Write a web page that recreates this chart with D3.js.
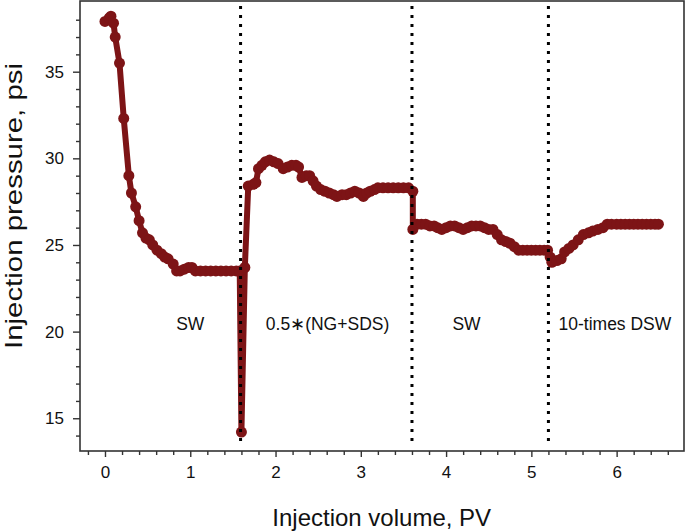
<!DOCTYPE html>
<html><head><meta charset="utf-8">
<script src="https://cdn.jsdelivr.net/npm/d3@7"></script>
<style>body{margin:0;background:#fff}svg{display:block}text{font-family:Arial,"Liberation Sans",sans-serif}</style>
</head><body>
<svg id="c" width="685" height="532"></svg>
<script>
const pv = [0.00,0.05,0.07,0.10,0.12,0.17,0.22,0.28,0.31,0.36,0.40,0.44,0.48,0.52,0.56,0.61,0.66,0.70,0.74,0.80,0.84,0.88,0.93,0.98,1.02,1.06,1.12,1.18,1.24,1.30,1.36,1.42,1.48,1.54,1.58,1.60,1.64,1.68,1.74,1.77,1.80,1.84,1.88,1.93,1.98,2.03,2.09,2.14,2.19,2.24,2.27,2.31,2.36,2.40,2.44,2.48,2.53,2.58,2.63,2.68,2.72,2.78,2.83,2.88,2.93,2.98,3.03,3.07,3.11,3.16,3.20,3.26,3.32,3.38,3.44,3.50,3.56,3.61,3.61,3.66,3.71,3.76,3.81,3.86,3.90,3.95,4.00,4.05,4.10,4.15,4.20,4.25,4.30,4.35,4.40,4.45,4.50,4.55,4.60,4.65,4.70,4.75,4.80,4.85,4.90,4.95,5.00,5.05,5.10,5.15,5.19,5.22,5.24,5.30,5.35,5.39,5.44,5.49,5.55,5.61,5.67,5.72,5.78,5.84,5.89,5.94,6.00,6.05,6.10,6.15,6.20,6.25,6.30,6.35,6.40,6.45,6.49];
const pressure = [37.9,38.1,38.2,37.8,37.0,35.5,32.3,29.0,28.0,27.2,26.4,25.7,25.4,25.3,25.0,24.7,24.5,24.3,24.2,23.9,23.5,23.5,23.6,23.7,23.7,23.5,23.5,23.5,23.5,23.5,23.5,23.5,23.5,23.5,23.5,14.2,23.7,28.4,28.5,28.6,29.4,29.6,29.8,29.9,29.8,29.7,29.4,29.5,29.6,29.6,29.5,28.9,29.0,29.0,28.7,28.4,28.2,28.1,28.0,27.9,27.8,27.9,27.9,28.0,28.1,28.0,27.8,28.0,28.1,28.2,28.3,28.3,28.3,28.3,28.3,28.3,28.3,28.1,25.9,26.2,26.2,26.2,26.1,26.1,26.0,25.9,26.0,26.1,26.1,26.0,25.9,26.0,26.1,26.1,26.1,26.0,25.9,25.9,25.6,25.3,25.2,25.1,24.9,24.7,24.7,24.7,24.7,24.7,24.7,24.7,24.7,24.3,24.0,24.1,24.2,24.6,24.8,25.0,25.3,25.6,25.7,25.8,25.9,26.0,26.2,26.2,26.2,26.2,26.2,26.2,26.2,26.2,26.2,26.2,26.2,26.2,26.2];
const xTicks = [0,1,2,3,4,5,6];
const yTicks = [15,20,25,30,35];
const boundaries = [1.59,3.60,5.20];
const stageLabels = ["SW","0.5\u2217(NG+SDS)","SW","10-times DSW"];
const stageLabelX = [1.0,2.61,4.24,5.98];
const xTitle = "Injection volume, PV";
const yTitle = "Injection pressure, psi";

const L=80,R=684,T=1,B=451;
const svg=d3.select("#c");
const x=d3.scaleLinear().domain([-0.293,6.79]).range([L,R]);
const y=d3.scaleLinear().domain([13.11,39.08]).range([B,T]);
const col="#7d1416", axc="#333";

const data=pv.map((v,i)=>({v,p:pressure[i]}));
svg.append("path").datum(data)
  .attr("d",d3.line().x(d=>x(d.v)).y(d=>y(d.p)))
  .attr("fill","none").attr("stroke",col).attr("stroke-width",6).attr("stroke-linejoin","round");
svg.selectAll("circle.m").data(data).join("circle").attr("class","m")
  .attr("cx",d=>x(d.v)).attr("cy",d=>y(d.p)).attr("r",5.5).attr("fill",col);

svg.selectAll("line.b").data(boundaries).join("line").attr("class","b")
  .attr("x1",d=>x(d)).attr("x2",d=>x(d)).attr("y1",6).attr("y2",444)
  .attr("stroke","#000").attr("stroke-width",3).attr("stroke-dasharray","3,6");

svg.selectAll("text.s").data(stageLabels).join("text").attr("class","s")
  .attr("x",(d,i)=>x(stageLabelX[i])).attr("y",330)
  .attr("text-anchor","middle").attr("font-size",17.5).attr("fill","#111").text(d=>d);

// frame
svg.append("rect").attr("x",L).attr("y",T).attr("width",R-L).attr("height",B-T)
  .attr("fill","none").attr("stroke",axc).attr("stroke-width",1.6);

svg.append("g").attr("transform",`translate(0,${B})`)
  .call(d3.axisBottom(x).tickValues(xTicks).tickSize(6).tickSizeOuter(0).tickPadding(9).tickFormat(d3.format("d")));
svg.append("g").attr("transform",`translate(0,${B})`)
  .call(d3.axisBottom(x).tickValues(d3.range(-0.2,6.8,0.2).filter(v=>Math.abs(v-Math.round(v))>0.01)).tickSize(4).tickSizeOuter(0).tickFormat(""));
svg.append("g").attr("transform",`translate(${L},0)`)
  .call(d3.axisLeft(y).tickValues(yTicks).tickSize(7).tickSizeOuter(0).tickPadding(9).tickFormat(d3.format("d")));
svg.append("g").attr("transform",`translate(${L},0)`)
  .call(d3.axisLeft(y).tickValues(d3.range(14,39,1).filter(v=>v%5!==0)).tickSize(4).tickSizeOuter(0).tickFormat(""));
svg.selectAll(".domain").remove();
svg.selectAll(".tick line").attr("stroke",axc).attr("stroke-width",1.4);
svg.selectAll(".tick text").attr("font-size",17).attr("fill","#111").attr("font-family","Arial, 'Liberation Sans', sans-serif");

svg.append("text").attr("x",381.7).attr("y",526).attr("text-anchor","middle")
  .attr("font-size",24).attr("fill","#111").text(xTitle);
svg.append("text").attr("transform",`translate(22,206) rotate(-90)`).attr("text-anchor","middle")
  .attr("font-size",24).attr("fill","#111")
  .attr("textLength",286).attr("lengthAdjust","spacingAndGlyphs").text(yTitle);
</script>
</body></html>
